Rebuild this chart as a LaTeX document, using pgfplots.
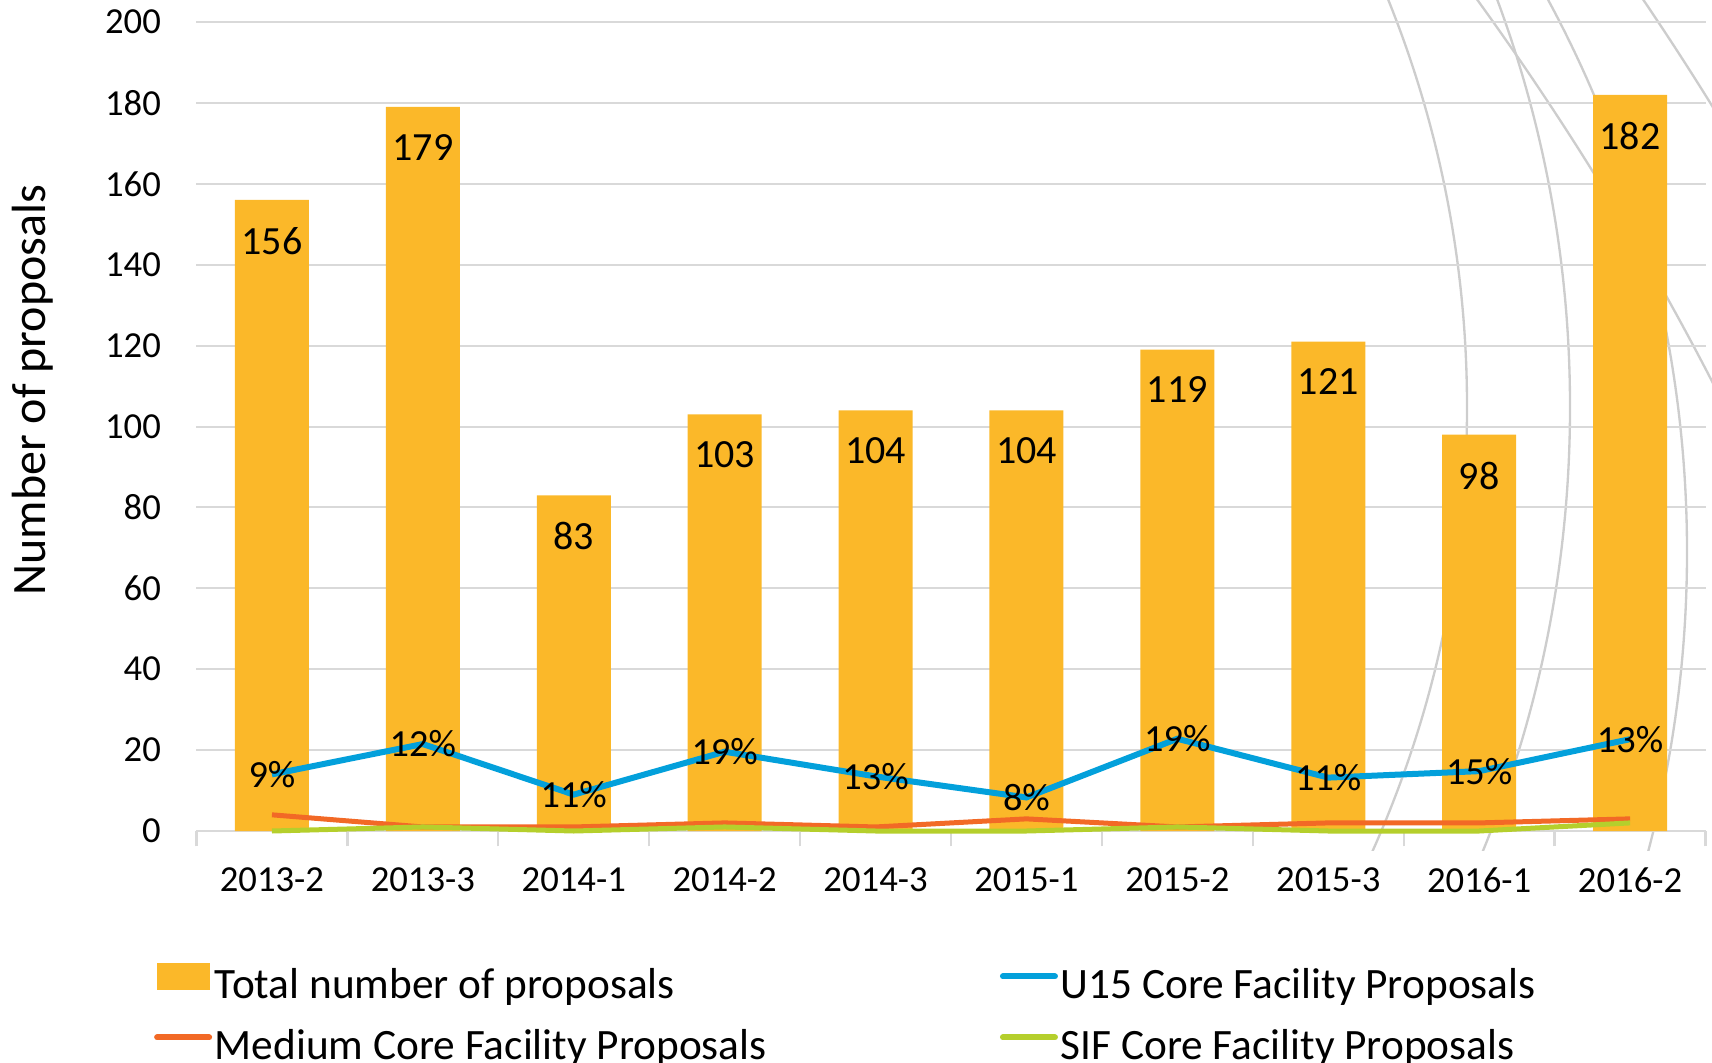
\documentclass[border=0pt]{standalone}
\usepackage{fontspec}
\setmainfont{Carlito}
\usepackage{pgfplots}
\pgfplotsset{compat=1.18}
\definecolor{barc}{RGB}{251,184,41}
\definecolor{blu}{RGB}{3,160,219}
\definecolor{org}{RGB}{242,105,38}
\definecolor{grn}{RGB}{181,207,44}
\definecolor{grd}{RGB}{217,217,217}
\definecolor{arcc}{RGB}{205,205,205}
\begin{document}
\begin{tikzpicture}
\path[use as bounding box] (-58.95pt,-69.3pt) rectangle (454.65pt,249.3pt);
\begin{scope}
\clip (331pt,-5.7pt) rectangle (460pt,250pt);
\draw[arcc, line width=0.7pt] (54.75pt,127.2pt) circle (326.4pt);
\draw[arcc, line width=0.7pt] (60.75pt,127.2pt) circle (351.3pt);
\draw[arcc, line width=0.7pt] (97.65pt,83.7pt) circle (349.5pt);
\draw[arcc, line width=0.7pt] (-343.95pt,-276.6pt) circle (898.2pt);
\draw[arcc, line width=0.7pt] (-343.95pt,-276.6pt) circle (939pt);
\end{scope}
\begin{axis}[
  at={(0pt,0pt)}, anchor=south west,
  scale only axis, width=452.7pt, height=242.7pt,
  xmin=-0.5, xmax=9.5, ymin=0, ymax=200,
  clip=false,
  axis x line*=bottom, axis y line*=left,
  y axis line style={draw=none},
  x axis line style={grd, line width=0.7pt},
  xtick={0,...,9},
  xticklabels={2013-2,2013-3,2014-1,2014-2,2014-3,2015-1,2015-2,2015-3,2016-1,2016-2},
  minor xtick={-0.5,0.5,...,9.5},
  ytick={0,20,...,200},
  major tick length=0pt, minor tick length=4.6pt,
  tick align=outside,
  minor tick style={grd, line width=0.7pt},
  ymajorgrids, xmajorgrids=false,
  major grid style={grd, line width=0.6pt},
  /pgf/number format/assume math mode=true,
  tick label style={font=\fontsize{11}{13}\selectfont, text=black},
  yticklabel style={anchor=east, inner sep=0pt, xshift=-10.5pt},
  xticklabel style={anchor=north, inner sep=0pt, yshift=-10.9pt},
  every axis y label/.style={at={(axis description cs:-0.1083,0.545)}, rotate=90, anchor=center, font=\fontsize{14.4}{17}\selectfont},
  ylabel={Number of proposals},
  legend columns=2,
  legend cell align=left,
  legend style={draw=none, fill=none, at={(-0.0285,-0.1625)}, anchor=north west, inner sep=0pt,
    font=\fontsize{13}{15}\selectfont,
    nodes={inner sep=0pt, text height=9.3pt, text depth=3.2pt},
    /tikz/row sep=5.8pt,
    /tikz/every odd column/.append style={column sep=0.8pt},
    /tikz/every even column/.append style={column sep=70pt}},
]
\addplot[ybar, bar width=22.2pt, fill=barc, draw=none,
  point meta=explicit symbolic, nodes near coords,
  nodes near coords style={anchor=north, inner sep=0pt, yshift=-8pt, font=\fontsize{12}{14}\selectfont, text=black},
  legend image code/.code={\fill[barc] (0pt,-0.5pt) rectangle (15.9pt,7.5pt);}]
coordinates {(0,156)[156] (1,179)[179] (2,83)[83] (3,103)[103] (4,104)[104]
  (5,104)[104] (6,119)[119] (7,121)[121] (8,98)[98] (9,182)[182]};
\addlegendentry{Total number of proposals}
\addplot[blu, line width=1.8pt, mark=none,
  point meta=explicit symbolic, nodes near coords,
  nodes near coords style={anchor=center, inner sep=0pt, font=\fontsize{11.5}{13}\selectfont, text=black},
  legend image code/.code={\draw[blu, line width=1.8pt, line cap=round] (0pt,3.5pt) -- (15.6pt,3.5pt);}]
coordinates {(0,14)[9\%] (1,21.5)[12\%] (2,9)[11\%] (3,19.6)[19\%] (4,13.5)[13\%]
  (5,8.3)[8\%] (6,22.8)[19\%] (7,13.2)[11\%] (8,14.8)[15\%] (9,22.7)[13\%]};
\addlegendentry{U15 Core Facility Proposals}
\addplot[org, line width=1.5pt, mark=none,
  legend image code/.code={\draw[org, line width=1.8pt, line cap=round] (0pt,3.5pt) -- (15.6pt,3.5pt);}]
coordinates {(0,4) (1,1) (2,1) (3,2) (4,1) (5,3) (6,1) (7,2) (8,2) (9,3)};
\addlegendentry{Medium Core Facility Proposals}
\addplot[grn, line width=1.5pt, mark=none,
  legend image code/.code={\draw[grn, line width=1.8pt, line cap=round] (0pt,3.5pt) -- (15.6pt,3.5pt);}]
coordinates {(0,0) (1,1) (2,0) (3,1) (4,0) (5,0) (6,1) (7,0) (8,0) (9,2)};
\addlegendentry{SIF Core Facility Proposals}
\end{axis}
\end{tikzpicture}
\end{document}
